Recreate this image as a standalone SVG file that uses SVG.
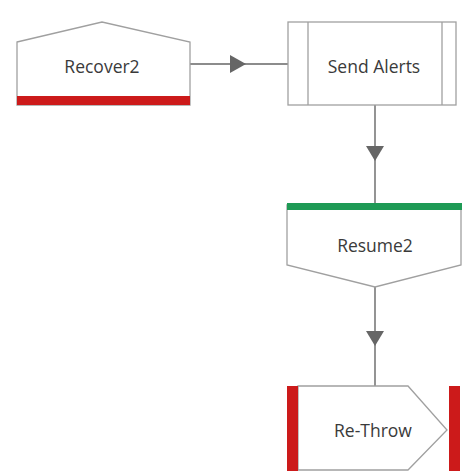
<svg xmlns="http://www.w3.org/2000/svg" width="462" height="475" viewBox="0 0 462 475">
<style>
.shape{fill:#fff;stroke:#a0a0a0;stroke-width:1.3}
.lbl{font-family:"Open Sans","Noto Sans",sans-serif;font-size:17.5px;fill:#3a3a3a;text-anchor:middle;dominant-baseline:central}
.conn{stroke:#666;stroke-width:1.4;fill:none}
.arr{fill:#666}
.red{fill:#cc1a1a}
.green{fill:#1e9a55}
</style>
<rect width="462" height="475" fill="#fff"/>
<g id="connectors">
<line class="conn" x1="190" y1="64" x2="288" y2="64"/>
<polygon class="arr" points="230,55 246,64 230,73"/>
<line class="conn" x1="375" y1="105" x2="375" y2="203"/>
<polygon class="arr" points="366,146 384,146 375,161"/>
<line class="conn" x1="375" y1="287" x2="375" y2="386"/>
<polygon class="arr" points="366,331 384,331 375,346"/>
</g>
<g id="recover2">
<polygon class="shape" points="17,42 102,22 190,42 190,105 17,105"/>
<rect class="red" x="17" y="96" width="173" height="9"/>
<text class="lbl" x="102" y="66">Recover2</text>
</g>
<g id="send-alerts">
<rect class="shape" x="288" y="22" width="168" height="83"/>
<line class="shape" x1="308" y1="22" x2="308" y2="105"/>
<line class="shape" x1="442" y1="22" x2="442" y2="105"/>
<text class="lbl" x="374" y="66">Send Alerts</text>
</g>
<g id="resume2">
<polygon class="shape" points="287,205 461,205 461,265 375,287 287,265"/>
<rect class="green" x="287" y="203" width="175" height="7"/>
<text class="lbl" x="375" y="245">Resume2</text>
</g>
<g id="re-throw">
<polygon class="shape" points="298,386 408,386 447,430 408,470 298,470"/>
<rect class="red" x="287" y="386" width="11" height="85"/>
<rect class="red" x="449" y="386" width="11" height="85"/>
<text class="lbl" x="373" y="430">Re-Throw</text>
</g>
</svg>
